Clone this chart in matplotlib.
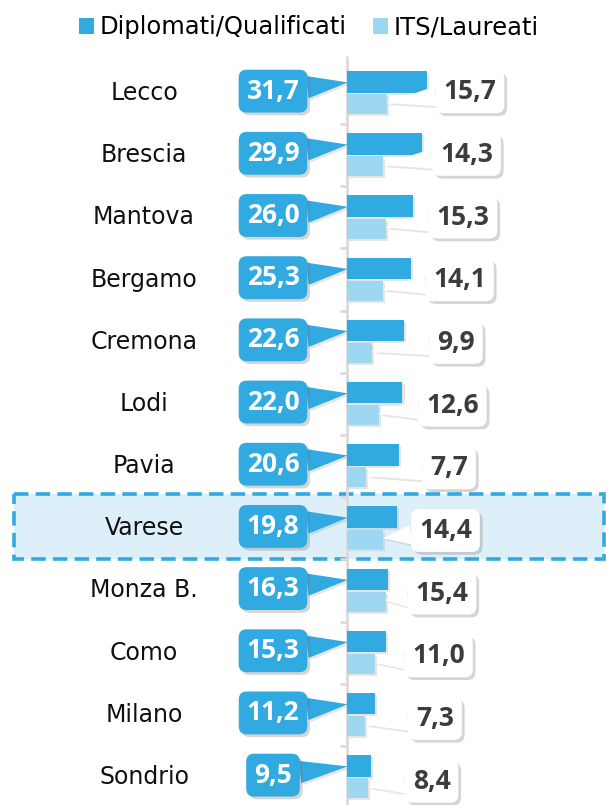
import numpy as np
import matplotlib.pyplot as plt
import matplotlib.patheffects as pe
from matplotlib.patches import Rectangle, Patch

# DATA #################################################################################################################
province = ["Lecco", "Brescia", "Mantova", "Bergamo", "Cremona", "Lodi", "Pavia", "Varese",
            "Monza B.", "Como", "Milano", "Sondrio"]
diplomati = [31.7, 29.9, 26.0, 25.3, 22.6, 22.0, 20.6, 19.8, 16.3, 15.3, 11.2, 9.5]
its_laureati = [15.7, 14.3, 15.3, 14.1, 9.9, 12.6, 7.7, 14.4, 15.4, 11.0, 7.3, 8.4]
series_names = ["Diplomati/Qualificati", "ITS/Laureati"]
highlight = "Varese"

# STYLE ################################################################################################################
c_dark = "#31A9E1"
c_light = "#9DD7F2"
c_text = "#3C3C3C"
c_axis = "#DADADA"
px_unit = 2.52      # pixels per value unit
px_row = 62.18      # pixels per row
x0_px, y0_px = 347, 93
W, H = 606, 805

fig = plt.figure(figsize=(W / 100, H / 100), dpi=100)
ax = fig.add_axes([0, 0, 1, 1])
ax.set_xlim(-x0_px / px_unit, (W - x0_px) / px_unit)
ax.set_ylim((H - y0_px) / px_row, -y0_px / px_row)
ax.axis("off")


def px2x(p):
    return (p - x0_px) / px_unit


def px2y(p):
    return (p - y0_px) / px_row


n = len(province)
y = np.arange(n)
shadow = [pe.SimplePatchShadow(offset=(2, -2), shadow_rgbFace="#777777", alpha=0.3), pe.Normal()]
shadow_soft = [pe.SimplePatchShadow(offset=(1.5, -1.5), shadow_rgbFace="#999999", alpha=0.25), pe.Normal()]

# highlight band
k = province.index(highlight)
hl = Rectangle((px2x(14), px2y(494)), px2x(604) - px2x(14), px2y(559) - px2y(494),
               facecolor="#DDF0F9", edgecolor=c_dark, linewidth=2.6, linestyle=(0, (4, 2)), zorder=0)
ax.add_patch(hl)

# axis line + small ticks between rows
ax.vlines(0, px2y(56), px2y(H), color=c_axis, linewidth=2, zorder=1)
ax.hlines(y[:-1] + 0.5, -2.6, 0, color=c_axis, linewidth=2, zorder=1)

# bars
b1 = ax.barh(y - 0.18, diplomati, height=0.345, color=c_dark, zorder=2)
b2 = ax.barh(y + 0.18, its_laureati, height=0.32, color=c_light, zorder=2)
for b in list(b1) + list(b2):
    b.set_path_effects(shadow_soft)

# category labels
for i, name in enumerate(province):
    ax.text(px2x(144), i, name, ha="center", va="center", fontsize=17,
            family="DejaVu Sans", color="#111111", zorder=3)

# callouts
for i in range(n):
    fmt1 = ("%.1f" % diplomati[i]).replace(".", ",")
    a1 = ax.annotate(fmt1, xy=(0.3, i - 0.17), xytext=(px2x(273), i - 0.03), textcoords="data",
                     ha="center", va="center", fontsize=19, fontweight="bold", family="Open Sans", color="white",
                     bbox=dict(boxstyle="round,pad=0.3,rounding_size=0.3", fc=c_dark, ec="none"),
                     arrowprops=dict(arrowstyle="wedge,tail_width=0.85,shrink_factor=0.5", fc=c_dark, ec="none",
                                     shrinkA=0, shrinkB=0),
                     zorder=4)
    a1.get_bbox_patch().set_path_effects(shadow)
    a1.arrow_patch.set_path_effects(shadow_soft)

    fmt2 = ("%.1f" % its_laureati[i]).replace(".", ",")
    a2 = ax.annotate(fmt2, xy=(its_laureati[i] - 0.2, i + 0.16), xytext=(px2x(470 - 3.5 * i), i - 0.02 + 0.008 * i),
                     textcoords="data",
                     ha="center", va="center", fontsize=19, fontweight="bold", family="Open Sans", color=c_text,
                     bbox=dict(boxstyle="round,pad=0.3,rounding_size=0.3", fc="white", ec="none"),
                     arrowprops=dict(arrowstyle="wedge,tail_width=0.75,shrink_factor=0.5", fc="white", ec="none",
                                     shrinkA=0, shrinkB=0),
                     zorder=4)
    a2.get_bbox_patch().set_path_effects(shadow)
    a2.arrow_patch.set_path_effects(shadow_soft)

# legend
handles = [Patch(facecolor=c_dark, edgecolor="none"), Patch(facecolor=c_light, edgecolor="none")]
fig.legend(handles, series_names, loc="upper center", bbox_to_anchor=(0.51, 1.008), ncol=2, frameon=False,
           handlelength=0.6, handleheight=0.6, handletextpad=0.25, columnspacing=1.1,
           prop={"family": "DejaVu Sans", "size": 17.5})

plt.savefig("out.png", dpi=100)
